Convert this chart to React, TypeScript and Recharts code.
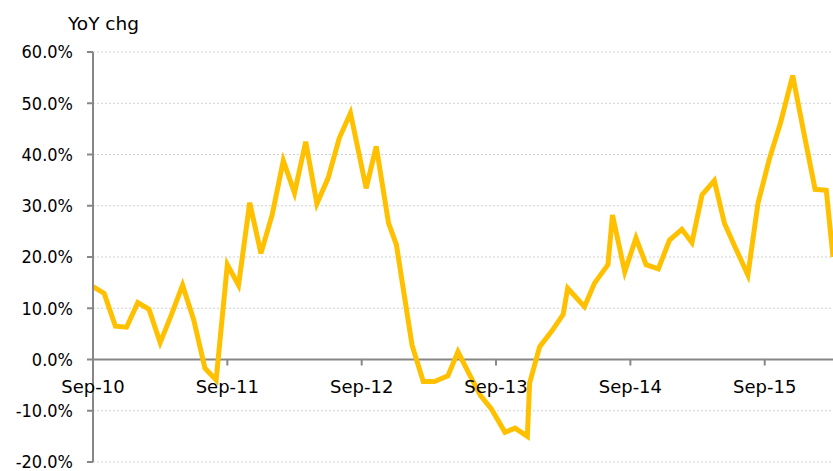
import { LineChart, Line, XAxis, YAxis, CartesianGrid, ReferenceLine, ReferenceDot } from 'recharts';

// months counted from Sep-10 (positions)
const monthsSinceSep10 = [
  0, 1, 2, 3, 4, 5, 6, 7, 8, 9, 10, 11,
  12, 13, 14, 15, 16, 17, 18, 19, 20, 21, 22, 23,
  24.4, 25.3, 26.4, 27.1, 28.5, 29.5, 30.5, 31.7, 32.6, 33.6, 34.6, 35.6,
  36.8, 37.7, 38.8, 39.0, 39.9, 41.0, 42.0, 42.4, 43.9, 44.8, 46.0, 46.4, 47.5,
  48.5, 49.4, 50.5, 51.5, 52.6, 53.5, 54.4, 55.5, 56.4, 57.4, 58.5, 59.4,
  60.4, 61.4, 62.5, 63.5, 64.5, 65.5, 66.1,
];

// YoY change, %
const yoyChg = [
  14.2, 12.9, 6.5, 6.3, 11.1, 9.8, 3.3, 8.7, 14.5, 7.7, -1.7, -4.0,
  18.5, 14.5, 30.6, 20.7, 28.2, 38.8, 32.5, 42.5, 30.4, 35.4, 43.2, 48.1,
  33.4, 41.6, 26.6, 22.4, 2.8, -4.3, -4.3, -3.2, 1.5, -2.8, -7.0, -9.7,
  -14.2, -13.4, -15.0, -4.6, 2.5, 5.6, 8.8, 13.9, 10.3, 14.9, 18.5, 28.2, 17.1,
  23.7, 18.5, 17.7, 23.3, 25.4, 22.8, 32.1, 34.9, 26.6, 21.7, 16.5, 30.5,
  39.0, 46.1, 55.4, 44.2, 33.2, 33.0, 20.0,
];

const yTicks = [-20, -10, 0, 10, 20, 30, 40, 50, 60];
const xTickMonths = [0, 12, 24, 36, 48, 60];
const xTickLabels = ['Sep-10', 'Sep-11', 'Sep-12', 'Sep-13', 'Sep-14', 'Sep-15'];

const data = monthsSinceSep10.map((m, i) => ({ m, v: yoyChg[i] }));

const axisGrey = '#878787';
const font = "'DejaVu Sans', sans-serif";

function xTick(label: string) {
  return (p: any) => (
    <g>
      <line x1={p.cx} y1={p.cy} x2={p.cx} y2={p.cy + 6} stroke={axisGrey} strokeWidth={2} />
      <text x={p.cx} y={p.cy + 33} textAnchor="middle" fontSize={18} fontFamily={font} fill="#000">
        {label}
      </text>
    </g>
  );
}

export default function App() {
  return (
    <div style={{ position: 'absolute', left: 0, top: 0, width: 833, height: 471, background: '#fff' }}>
      <div
        style={{
          position: 'absolute', left: 68, top: 15, fontFamily: font, fontSize: 18.5,
          lineHeight: '18px', color: '#000', whiteSpace: 'nowrap',
        }}
      >
        YoY chg
      </div>
      <LineChart width={833} height={471} data={data} margin={{ top: 52, right: 0, bottom: 9, left: 0 }}>
        <CartesianGrid vertical={false} stroke="#cfcfcf" strokeDasharray="2 2" />
        <XAxis type="number" dataKey="m" domain={[0, 'dataMax']} hide />
        <YAxis
          domain={[-20, 60]}
          ticks={yTicks}
          interval={0}
          width={93}
          tickSize={6}
          tickMargin={14}
          axisLine={{ stroke: axisGrey, strokeWidth: 2 }}
          tickLine={{ stroke: axisGrey, strokeWidth: 2 }}
          tick={{ fill: '#000', fontSize: 18, fontFamily: "'DejaVu Sans Condensed', 'DejaVu Sans', sans-serif" }}
          tickFormatter={(v: number) => `${v.toFixed(1)}%`}
        />
        <ReferenceLine y={0} stroke={axisGrey} strokeWidth={2} />
        <Line
          type="linear"
          dataKey="v"
          stroke="#FFC000"
          strokeWidth={5}
          dot={false}
          isAnimationActive={false}
        />
        {xTickMonths.map((m, i) => (
          <ReferenceDot key={m} x={m} y={0} r={0} shape={xTick(xTickLabels[i])} />
        ))}
      </LineChart>
    </div>
  );
}
